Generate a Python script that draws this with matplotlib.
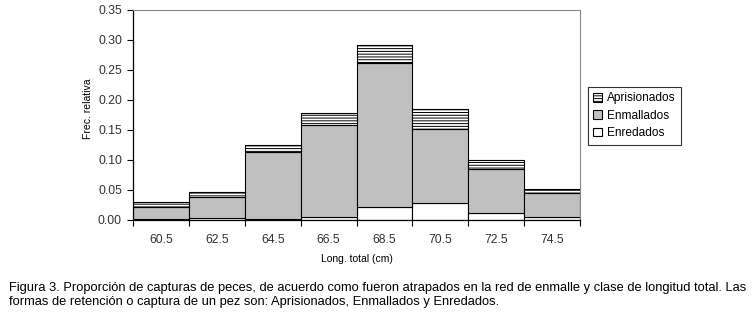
import matplotlib.pyplot as plt
import numpy as np

plt.rcParams['font.family'] = ['Liberation Sans', 'DejaVu Sans']
plt.rcParams['hatch.linewidth'] = 0.7

# Relative frequency by total length class and capture type
clases = ["60.5", "62.5", "64.5", "66.5", "68.5", "70.5", "72.5", "74.5"]
enredados = [0.002, 0.003, 0.002, 0.005, 0.021, 0.029, 0.011, 0.0045]
enmallados = [0.019, 0.036, 0.111, 0.153, 0.240, 0.122, 0.0735, 0.040]
aprisionados = [0.0085, 0.0077, 0.0115, 0.020, 0.031, 0.0335, 0.015, 0.0075]

fig = plt.figure(figsize=(7.54, 3.18), dpi=100)
ax = fig.add_axes([133/754, 1 - 220/318, (580-133)/754, 210/318])

x = np.arange(len(clases))
enr = np.array(enredados)
enm = np.array(enmallados)
apr = np.array(aprisionados)

b1 = ax.bar(x, enr, width=1, color='white', edgecolor='black', linewidth=0.8, label='Enredados')
b2 = ax.bar(x, enm, width=1, bottom=enr, color='#c0c0c0', edgecolor='black', linewidth=0.8, label='Enmallados')
b3 = ax.bar(x, apr, width=1, bottom=enr + enm, color='white', edgecolor='black', linewidth=0.8,
            hatch='------', label='Aprisionados')

ax.set_xlim(-0.5, len(clases) - 0.5)
ax.set_ylim(0, 0.35)
ax.set_yticks(np.arange(0, 0.351, 0.05))
ax.set_yticklabels([f"{v:.2f}" for v in np.arange(0, 0.351, 0.05)])
ax.set_xticks(x)
ax.set_xticklabels(clases)
ax.set_xticks(np.arange(-0.5, len(clases), 1), minor=True)
ax.tick_params(axis='x', which='major', length=0, pad=10, labelsize=8.8, colors='#333333')
ax.tick_params(axis='x', which='minor', length=4, width=0.8)
ax.tick_params(axis='y', length=4, width=0.8, labelsize=8.8, labelcolor='#333333', pad=4)

for s in ['top', 'right']:
    ax.spines[s].set_color('#888888')
    ax.spines[s].set_linewidth(0.8)
for s in ['left', 'bottom']:
    ax.spines[s].set_linewidth(0.9)

ax.set_xlabel('Long. total (cm)', fontsize=7.5, labelpad=6)
ax.set_ylabel('Frec. relativa', fontsize=7.5)
ax.yaxis.set_label_coords(-0.09, 0.53)

leg = ax.legend(handles=[b3, b2, b1], loc='upper left',
                bbox_to_anchor=(588/754, 1 - 87/318), bbox_transform=fig.transFigure,
                fontsize=8.6, frameon=True, fancybox=False, edgecolor='black',
                handlelength=0.75, handleheight=0.75, handletextpad=0.4,
                borderpad=0.45, labelspacing=0.45, borderaxespad=0)
leg.get_frame().set_linewidth(0.8)

caption = ("Figura 3. Proporción de capturas de peces, de acuerdo como fueron atrapados en la red de enmalle y clase de longitud total. Las\n"
           "formas de retención o captura de un pez son: Aprisionados, Enmallados y Enredados.")
fig.text(9/754, 1 - 282/318, caption, fontsize=9.25, va='top', ha='left',
         family=['Liberation Sans', 'DejaVu Sans'], linespacing=1.2)

fig.savefig('out.png', dpi=100)
